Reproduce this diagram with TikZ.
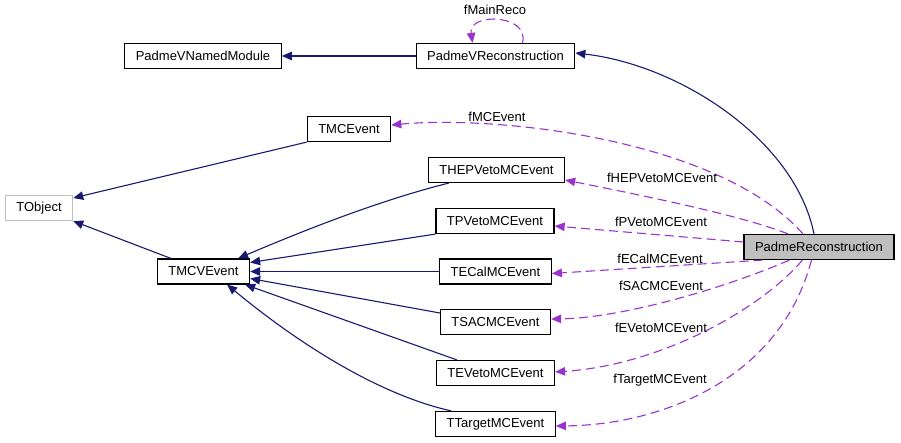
\documentclass[tikz,border=0pt]{standalone}
\usepackage{fontspec}
\setmainfont{Liberation Sans}
\usetikzlibrary{arrows.meta}
\definecolor{inheritline}{HTML}{191970}
\definecolor{memberline}{HTML}{9A32CD}
\definecolor{extborder}{HTML}{BFBFBF}
\definecolor{focusfill}{HTML}{BFBFBF}
\tikzset{
  cls/.style={draw=black, line width=1.2pt, minimum height=25pt,
              inner xsep=11pt, inner ysep=0pt, fill=white,
              font=\fontsize{13pt}{15pt}\selectfont},
  focuscls/.style={cls, fill=focusfill},
  extcls/.style={cls, draw=extborder},
  inherit/.style={draw=inheritline, line width=1.1pt,
                  -{Triangle[length=10pt,width=8.5pt]}},
  member/.style={draw=memberline, line width=1.1pt, dash pattern=on 9pt off 5pt,
                 -{Triangle[length=10pt,width=8.5pt]}},
  rolelabel/.style={inner sep=0pt, font=\fontsize{13pt}{15pt}\selectfont},
}
\begin{document}
\begin{tikzpicture}[x=1pt, y=-1pt]
    \useasboundingbox (0,0) rectangle (901,443);
    % classes
    \node[cls] (pvnm) at (203,56) {PadmeVNamedModule};
    \node[cls] (pvr) at (495.5,56) {PadmeVReconstruction};
    \node[cls] (tmce) at (349,129) {TMCEvent};
    \node[cls] (thep) at (496.5,170) {THEPVetoMCEvent};
    \node[extcls] (tobj) at (39,208) {TObject};
    \node[cls] (tpv) at (495,221) {TPVetoMCEvent};
    \node[focuscls] (preco) at (819,247) {PadmeReconstruction};
    \node[cls] (tmcv) at (203.5,271.5) {TMCVEvent};
    \node[cls] (tecal) at (495.5,271.5) {TECalMCEvent};
    \node[cls] (tsac) at (495.5,322) {TSACMCEvent};
    \node[cls] (tev) at (495.5,373) {TEVetoMCEvent};
    \node[cls] (ttg) at (495.5,424) {TTargetMCEvent};
    % inheritance
    \draw[inherit] (pvr) -- (pvnm);
    \draw[inherit] ([xshift=-5pt]preco.north) .. controls (795,140) and (680,65) .. ([yshift=3pt]pvr.east);
    \draw[inherit] (tmce.south west) -- ([yshift=10pt]tobj.east);
    \draw[inherit] ([xshift=14pt]tmcv.north west) -- (tobj.south east);
    \draw[inherit] ([xshift=21pt]thep.south west) .. controls (380,200) and (300,232) .. ([xshift=-12pt]tmcv.north east);
    \draw[inherit] (tpv.south west) -- ([yshift=9pt]tmcv.east);
    \draw[inherit] (tecal) -- (tmcv);
    \draw[inherit] ([yshift=9pt]tsac.west) -- ([yshift=-7pt]tmcv.east);
    \draw[inherit] ([xshift=21pt]tev.north west) -- ([xshift=-5pt]tmcv.south east);
    \draw[inherit] ([xshift=16pt]ttg.north west) .. controls (380,395) and (300,345) .. ([xshift=-23pt]tmcv.south east);
    % members
    \draw[member] ([xshift=27pt]pvr.north) .. controls (530,14) and (468,12) .. ([xshift=-23pt]pvr.north);
    \draw[member] ([xshift=-16pt]preco.north) .. controls (720,140) and (500,115) .. ([yshift=4pt]tmce.east);
    \draw[member] ([xshift=-31pt]preco.north) .. controls (740,215) and (640,195) .. ([yshift=-10pt]thep.east);
    \draw[member] ([yshift=5pt]preco.west) -- ([yshift=-5pt]tpv.east);
    \draw[member] ([xshift=19pt]preco.south west) -- ([yshift=-2pt]tecal.east);
    \draw[member] ([xshift=46pt]preco.south west) .. controls (720,290) and (620,318) .. ([yshift=3pt]tsac.east);
    \draw[member] ([xshift=59pt]preco.south west) .. controls (760,310) and (660,365) .. ([yshift=1pt]tev.east);
    \draw[member] ([xshift=68pt]preco.south west) .. controls (780,380) and (660,425) .. ([yshift=-2pt]ttg.east);
    % member names
    \node[rolelabel] (lmain) at (495,10) {fMainReco};
    \node[rolelabel] (lmce) at (497,117) {fMCEvent};
    \node[rolelabel] (lhep) at (662,178) {fHEPVetoMCEvent};
    \node[rolelabel] (lpv) at (661,222) {fPVetoMCEvent};
    \node[rolelabel] (lecal) at (660,259) {fECalMCEvent};
    \node[rolelabel] (lsac) at (661,286) {fSACMCEvent};
    \node[rolelabel] (lev) at (661,328) {fEVetoMCEvent};
    \node[rolelabel] (ltg) at (660,380) {fTargetMCEvent};
\end{tikzpicture}
\end{document}
